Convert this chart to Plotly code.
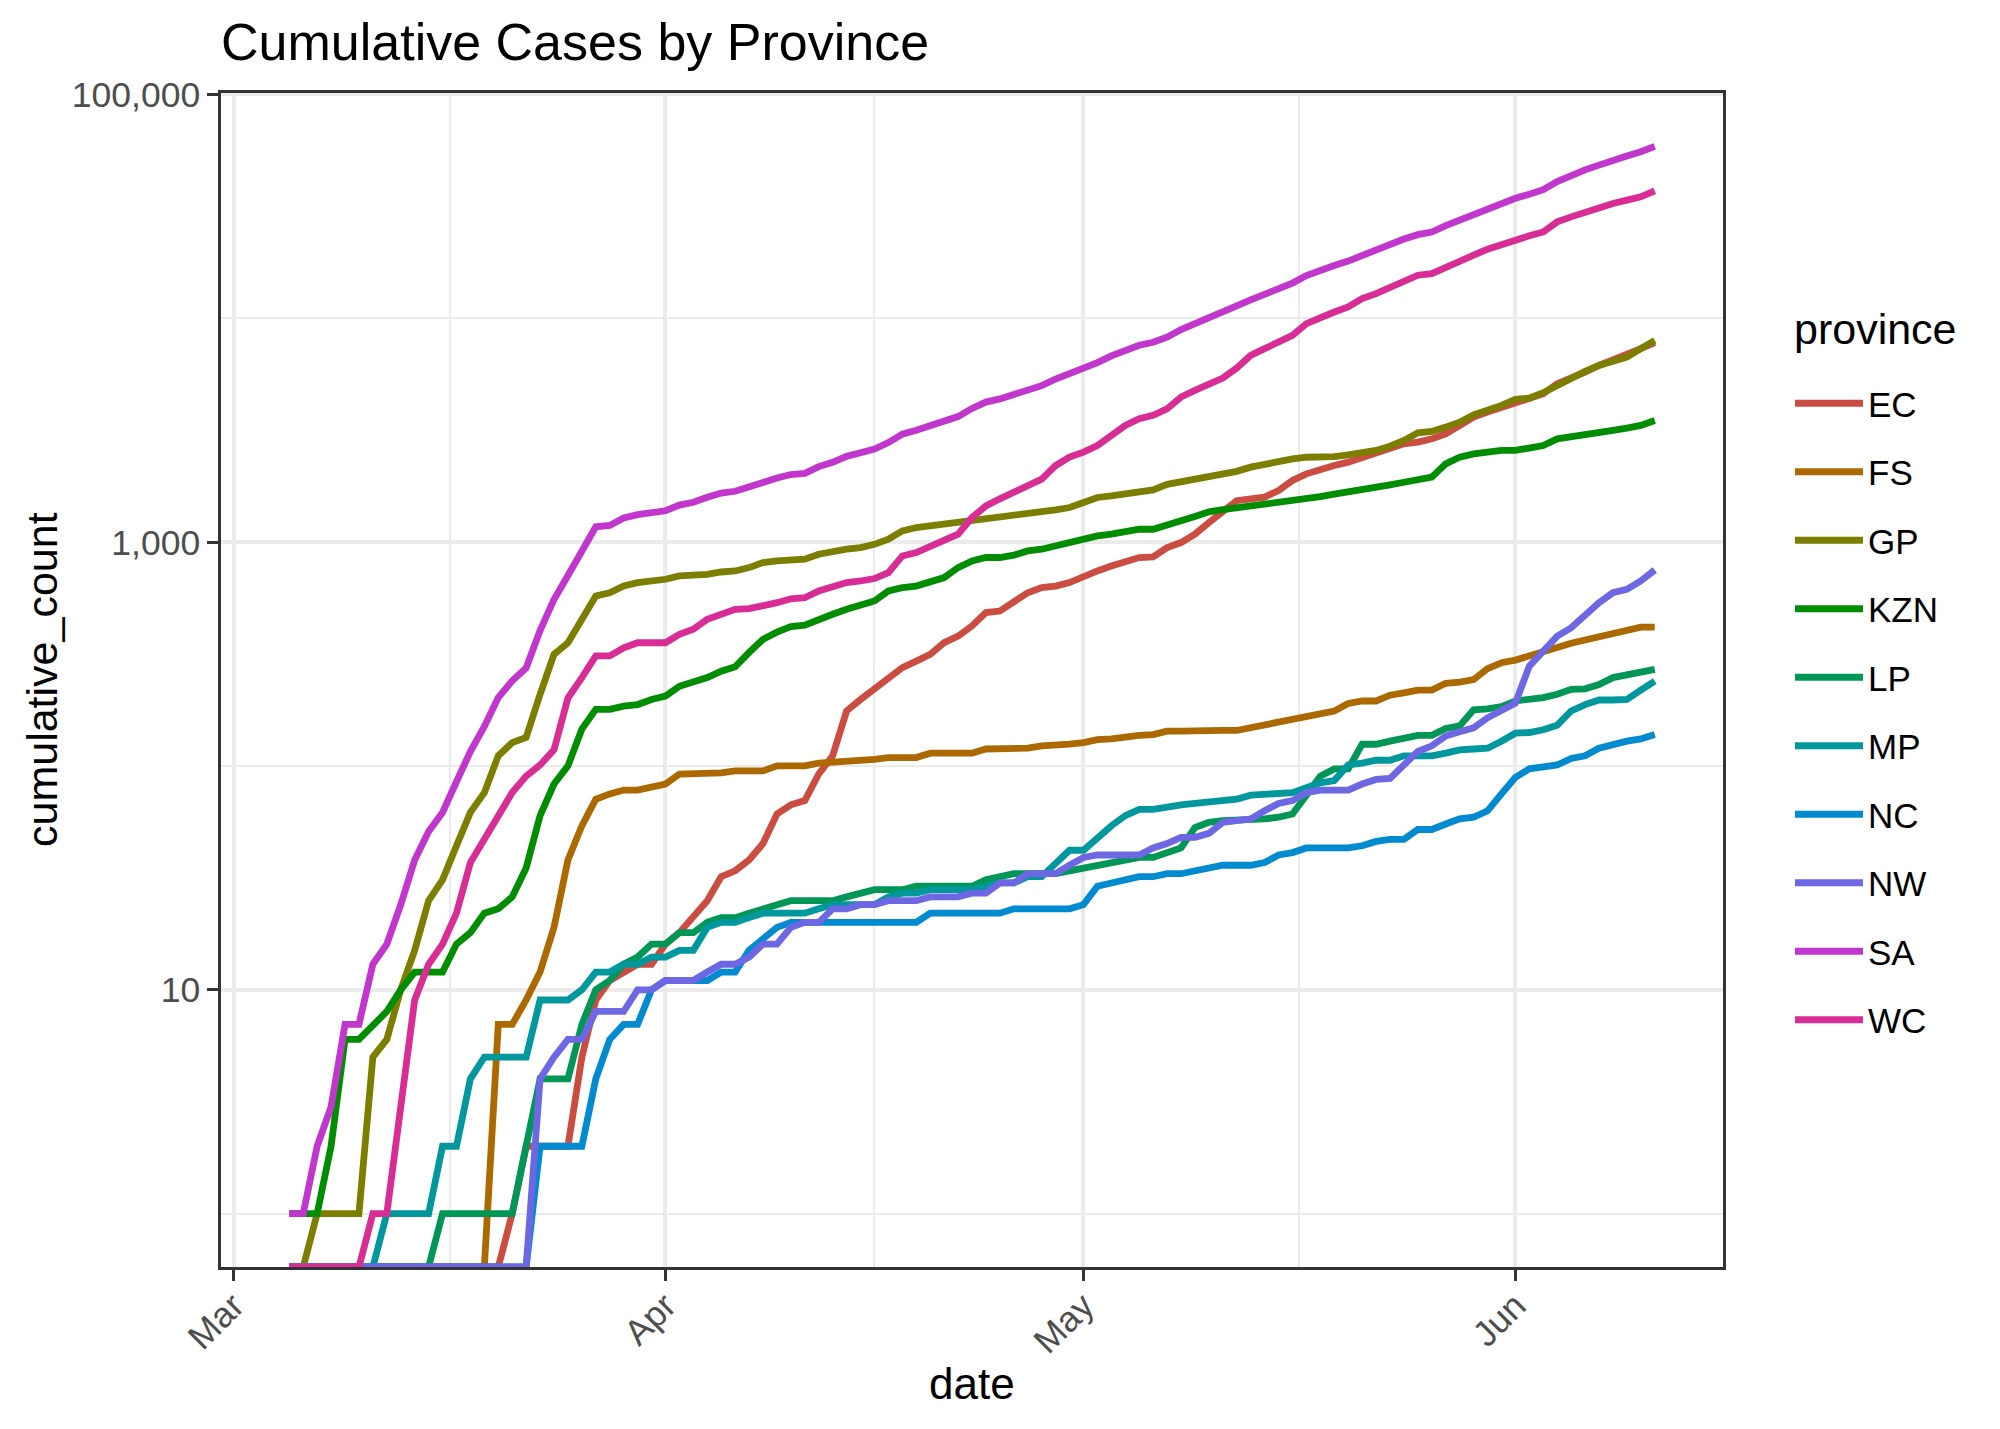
import math
import pandas as pd
import plotly.graph_objects as go

# ---------------- data ----------------
start_date = "2020-03-05"
end_date = "2020-06-11"
dates = pd.date_range(start_date, end_date, freq="D")

provinces = ["EC", "FS", "GP", "KZN", "LP", "MP", "NC", "NW", "SA", "WC"]

EC = [0, 0, 0, 0, 0, 0, 0, 0, 0, 0,
      0, 0, 0, 0, 0, 0, 1, 2, 2, 2,
      2, 5, 9, 11, 12, 13, 13, 16, 18, 21,
      25, 32, 34, 38, 45, 61, 67, 70, 92, 111,
      176, 198, 220, 248, 275, 294, 315, 355, 380, 422,
      484, 492, 536, 594, 626, 636, 659, 706, 743, 782,
      824, 853, 859, 945, 995, 1084, 1222, 1357, 1530, 1561,
      1587, 1700, 1883, 2017, 2124, 2198, 2275, 2393, 2522, 2628,
      2749, 2795, 2891, 3045, 3318, 3616, 3806, 4007, 4218, 4365,
      4598, 5098, 5370, 5748, 6155, 6480, 6822, 7310, 7781]

FS = [0, 0, 0, 0, 0, 0, 0, 0, 0, 0,
      0, 0, 0, 0, 0, 7, 7, 9, 12, 19,
      38, 54, 71, 75, 78, 78, 80, 83, 92, 92,
      92, 93, 95, 95, 95, 100, 100, 100, 103, 104,
      105, 105, 107, 109, 109, 109, 114, 114, 114, 114,
      119, 119, 119, 120, 123, 123, 125, 127, 131, 132,
      135, 137, 138, 143, 143, 144, 144, 144, 144, 148,
      153, 158, 161, 166, 170, 176, 190, 195, 195, 207,
      212, 218, 218, 234, 237, 243, 272, 289, 297, 310,
      329, 338, 353, 365, 378, 391, 407, 417, 417]

GP = [0, 0, 1, 1, 1, 1, 5, 6, 10, 15,
      25, 31, 44, 62, 76, 111, 127, 134, 209, 315,
      355, 452, 574, 594, 637, 659, 670, 682, 706, 711,
      718, 735, 743, 769, 810, 824, 824, 838, 882, 913,
      929, 944, 977, 1030, 1122, 1161, 1181, 1222, 1231, 1244,
      1274, 1295, 1309, 1332, 1355, 1393, 1426, 1502, 1582, 1608,
      1650, 1690, 1710, 1810, 1860, 1900, 1950, 2000, 2070, 2161,
      2236, 2313, 2353, 2393, 2393, 2410, 2452, 2502, 2566, 2682,
      2843, 3078, 3120, 3262, 3433, 3704, 3875, 4077, 4337, 4397,
      4647, 5011, 5404, 5786, 6155, 6480, 6708, 7310, 7967]

KZN = [1, 1, 1, 2, 6, 6, 7, 8, 10, 12,
       12, 12, 16, 18, 22, 23, 26, 35, 60, 83,
       100, 146, 179, 179, 185, 188, 198, 205, 227, 236,
       248, 265, 277, 321, 368, 396, 419, 425, 452, 476,
       501, 527, 546, 605, 626, 636, 659, 694, 769, 824,
       853, 853, 874, 913, 929, 962, 995, 1023, 1065, 1084,
       1110, 1141, 1141, 1201, 1244, 1301, 1365, 1395, 1420, 1456,
       1482, 1507, 1517, 1571, 1597, 1636, 1670, 1711, 1759, 1801,
       1850, 1902, 1949, 2236, 2393, 2477, 2522, 2566, 2566, 2628,
       2700, 2891, 2942, 3015, 3097, 3152, 3229, 3318, 3493]

LP = [0, 0, 0, 0, 0, 0, 0, 0, 0, 0,
      0, 1, 1, 1, 1, 1, 1, 2, 4, 4,
      4, 7, 10, 11, 13, 14, 16, 16, 18, 18,
      20, 21, 21, 22, 23, 24, 25, 25, 25, 25,
      26, 27, 28, 28, 28, 29, 29, 29, 29, 29,
      31, 32, 33, 33, 33, 33, 34, 35, 36, 37,
      38, 39, 39, 41, 43, 53, 56, 57, 57, 57,
      58, 59, 61, 74, 90, 97, 97, 125, 125, 129,
      134, 137, 137, 147, 151, 178, 180, 184, 195, 197,
      202, 209, 220, 221, 231, 248, 256, 261, 270]

MP = [0, 0, 0, 0, 0, 0, 0, 1, 1, 1,
      1, 2, 2, 4, 5, 5, 5, 5, 9, 9,
      9, 10, 12, 12, 13, 13, 14, 14, 15, 15,
      19, 20, 20, 21, 22, 22, 22, 22, 23, 24,
      24, 24, 24, 26, 27, 27, 28, 28, 28, 28,
      29, 30, 30, 32, 32, 37, 42, 42, 48, 54,
      60, 64, 64, 66, 67, 68, 69, 70, 71, 74,
      75, 76, 76, 80, 84, 86, 101, 103, 106, 106,
      111, 111, 111, 114, 118, 119, 120, 129, 140, 141,
      145, 152, 176, 188, 197, 197, 198, 218, 239]

NC = [0, 0, 0, 0, 0, 0, 0, 0, 0, 0,
      0, 0, 0, 0, 0, 0, 0, 0, 2, 2,
      2, 2, 4, 6, 7, 7, 10, 11, 11, 11,
      11, 12, 12, 15, 17, 19, 20, 20, 20, 20,
      20, 20, 20, 20, 20, 20, 22, 22, 22, 22,
      22, 22, 23, 23, 23, 23, 23, 24, 29, 30,
      31, 32, 32, 33, 33, 34, 35, 36, 36, 36,
      37, 40, 41, 43, 43, 43, 43, 44, 46, 47,
      47, 52, 52, 55, 58, 59, 63, 75, 89, 97,
      99, 101, 108, 111, 120, 125, 129, 132, 138]

NW = [0, 0, 0, 0, 0, 0, 0, 0, 0, 0,
      0, 0, 0, 0, 0, 0, 0, 0, 4, 5,
      6, 6, 8, 8, 8, 10, 10, 11, 11, 11,
      12, 13, 13, 14, 16, 16, 19, 20, 20, 23,
      23, 24, 24, 25, 25, 25, 26, 26, 26, 27,
      27, 30, 30, 33, 33, 33, 36, 39, 40, 40,
      40, 40, 43, 45, 48, 48, 50, 56, 57, 58,
      63, 68, 70, 76, 78, 78, 78, 83, 87, 88,
      101, 116, 123, 136, 142, 148, 164, 176, 191, 279,
      326, 380, 414, 475, 536, 594, 615, 670, 750]

SA = [1, 1, 2, 3, 7, 7, 13, 16, 24, 38,
      51, 62, 85, 116, 150, 202, 240, 274, 402, 554,
      709, 927, 1170, 1187, 1280, 1326, 1353, 1380, 1462, 1505,
      1585, 1655, 1686, 1749, 1845, 1934, 2003, 2028, 2173, 2272,
      2415, 2506, 2605, 2783, 3034, 3158, 3300, 3465, 3635, 3953,
      4220, 4361, 4546, 4793, 4996, 5350, 5647, 5951, 6336, 6783,
      7220, 7572, 7808, 8232, 8895, 9420, 10015, 10652, 11350, 12074,
      12739, 13524, 14355, 15515, 16433, 17200, 18003, 19137, 20125, 21343,
      22583, 23615, 24264, 25937, 27403, 29240, 30967, 32683, 34357, 35812,
      37525, 40792, 43434, 45973, 48285, 50879, 52991, 55421, 58568]

WC = [0, 0, 0, 0, 0, 0, 1, 1, 3, 9,
      13, 16, 22, 37, 47, 59, 76, 90, 101, 118,
      201, 248, 310, 310, 337, 355, 355, 355, 387, 408,
      452, 476, 501, 504, 518, 536, 558, 564, 605, 636,
      659, 670, 687, 730, 867, 898, 962, 1031, 1085, 1287,
      1450, 1560, 1660, 1790, 1910, 2198, 2395, 2522, 2700, 2992,
      3318, 3555, 3680, 3940, 4445, 4760, 5050, 5400, 5990, 6822,
      7310, 7832, 8380, 9460, 10130, 10660, 11230, 12230, 12880, 13800,
      14770, 15560, 15820, 16950, 17860, 19120, 20330, 21330, 22540, 23340,
      24290, 26930, 28360, 29860, 31120, 32570, 33700, 34860, 37080]

series = {"EC": EC, "FS": FS, "GP": GP, "KZN": KZN, "LP": LP,
          "MP": MP, "NC": NC, "NW": NW, "SA": SA, "WC": WC}

y_tick_vals = [10, 1000, 100000]
y_tick_text = ["10", "1,000", "100,000"]
y_minor_vals = [1, 100, 10000]
x_tick_vals = ["2020-03-01", "2020-04-01", "2020-05-01", "2020-06-01"]
x_tick_text = ["Mar", "Apr", "May", "Jun"]
x_minor_vals = ["2020-03-16 12:00", "2020-04-16 00:00", "2020-05-16 12:00"]


# ---------------- colours (ggplot-style hue palette, l = 50) ----------------
def hcl_to_hex(h, c=100.0, l=50.0):
    hr = math.radians(h)
    u, v = c * math.cos(hr), c * math.sin(hr)
    Xn, Yn, Zn = 95.047, 100.0, 108.883
    den = Xn + 15 * Yn + 3 * Zn
    un, vn = 4 * Xn / den, 9 * Yn / den
    Y = Yn * ((l + 16) / 116) ** 3 if l > 8 else Yn * l / 903.3
    up, vp = u / (13 * l) + un, v / (13 * l) + vn
    X = 9.0 * Y * up / (4 * vp)
    Z = 3 * Y / vp - X / 3 - 5 * Y
    X, Y, Z = X / 100, Y / 100, Z / 100
    r = 3.240479 * X - 1.537150 * Y - 0.498535 * Z
    g = -0.969256 * X + 1.875992 * Y + 0.041556 * Z
    b = 0.055648 * X - 0.204043 * Y + 1.057311 * Z

    def gam(t):
        t = 12.92 * t if t <= 0.0031308 else 1.055 * t ** (1 / 2.4) - 0.055
        return int(round(255 * max(0.0, min(1.0, t))))
    return "#{:02X}{:02X}{:02X}".format(gam(r), gam(g), gam(b))


n = len(provinces)
colors = [hcl_to_hex(15 + 360 * i / n) for i in range(n)]

# ---------------- scales (ggplot-like 5% expansion) ----------------
positive = [v for s in series.values() for v in s if v > 0]
lo, hi = math.log10(min(positive)), math.log10(max(positive))
pad = 0.05 * (hi - lo)
y_range = [lo - pad, hi + pad]
floor_value = 10 ** y_range[0]   # zero counts (log = -Inf) drawn on the panel edge

span = dates[-1] - dates[0]
x_range = [dates[0] - 0.05 * span, dates[-1] + 0.05 * span]

FONT = "Liberation Sans, Arial, Helvetica, sans-serif"

W, H = 2000, 1429
ML, MR, MT, MB = 221, 277, 93, 162
PW, PH = W - ML - MR, H - MT - MB


def px_x(x):  # page pixel -> paper x
    return (x - ML) / PW


def px_y(y):  # page pixel -> paper y
    return (H - MB - y) / PH


fig = go.Figure()
for name, col in zip(provinces, colors):
    vals = series[name]
    yv = [v if v > 0 else floor_value for v in vals]
    fig.add_trace(go.Scatter(
        x=dates, y=yv, mode="lines", name=name, legendgroup=name,
        line=dict(color=col, width=6.8),
    ))

axis_common = dict(
    showline=True, linecolor="#333333", linewidth=2.5, mirror=True,
    ticks="outside", ticklen=11, tickwidth=2.5, tickcolor="#333333",
    showgrid=True, gridcolor="#EBEBEB", gridwidth=3.5,
    zeroline=False,
    tickfont=dict(family=FONT, size=35.5, color="#4D4D4D"),
)

fig.update_layout(
    width=W, height=H,
    margin=dict(l=ML, r=MR, t=MT, b=MB),
    paper_bgcolor="white", plot_bgcolor="white",
    font=dict(family=FONT, color="black"),
    title=dict(text="Cumulative Cases by Province",
               font=dict(family=FONT, size=52, color="black"),
               x=0, xref="paper", xanchor="left",
               y=1 - 42 / H, yref="container", yanchor="middle"),
    xaxis=dict(type="date", range=x_range,
               tickmode="array", tickvals=x_tick_vals, ticktext=x_tick_text,
               tickangle=-45, ticklabelstandoff=-10,
               minor=dict(tickmode="array", tickvals=x_minor_vals, showgrid=True,
                          gridcolor="#EBEBEB", gridwidth=2, ticks=""),
               **axis_common),
    yaxis=dict(type="log", range=y_range,
               tickmode="array", tickvals=y_tick_vals, ticktext=y_tick_text,
               minor=dict(tickmode="array", tickvals=y_minor_vals, showgrid=True,
                          gridcolor="#EBEBEB", gridwidth=2, ticks=""),
               **axis_common),
    legend=dict(x=px_x(1790), xanchor="left",
                y=px_y(374), yanchor="top",
                font=dict(family=FONT, size=35, color="black"),
                bgcolor="rgba(0,0,0,0)", tracegroupgap=20, itemwidth=68),
    annotations=[
        dict(text="province", x=px_x(1792), xref="paper", y=px_y(329), yref="paper",
             xanchor="left", yanchor="middle", showarrow=False,
             font=dict(family=FONT, size=43, color="black")),
        dict(text="date", x=0.5, xref="paper", y=px_y(1383), yref="paper",
             xanchor="center", yanchor="middle", showarrow=False,
             font=dict(family=FONT, size=44, color="black")),
        dict(text="cumulative_count", x=px_x(42), xref="paper", y=0.5, yref="paper",
             xanchor="center", yanchor="middle", textangle=-90, showarrow=False,
             font=dict(family=FONT, size=43, color="black")),
    ],
)

fig.write_html("out.html", config={"displayModeBar": False},
               post_script="document.body.style.margin='0px';")
